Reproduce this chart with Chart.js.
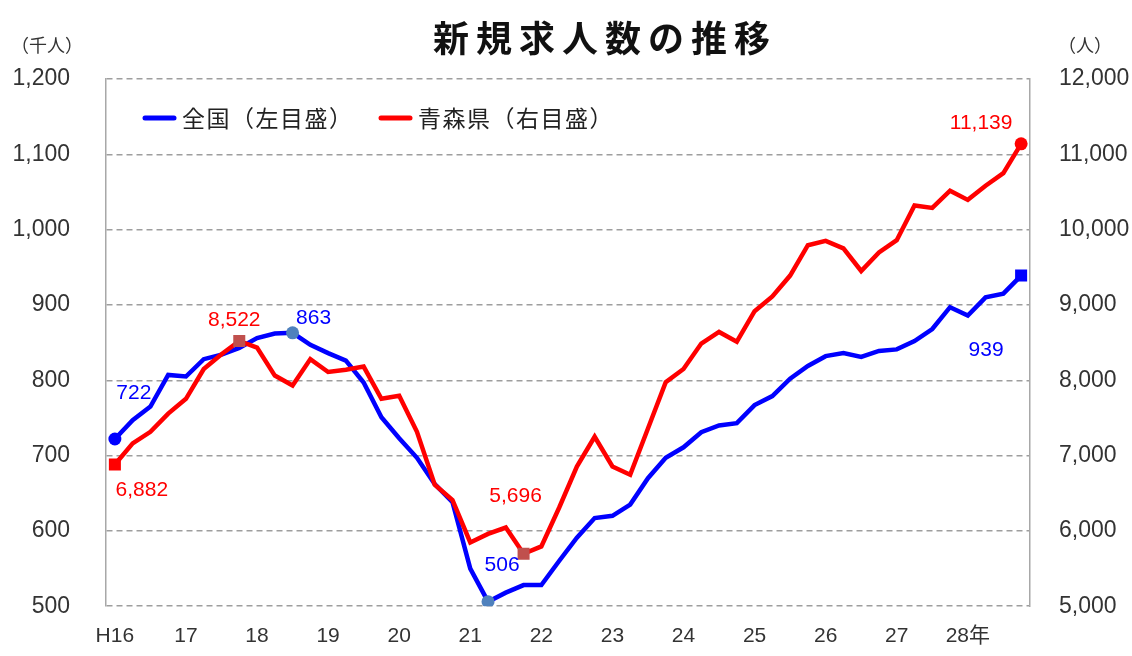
<!DOCTYPE html>
<html><head><meta charset="utf-8">
<script src="https://cdn.jsdelivr.net/npm/chart.js@4"></script>
<style>html,body{margin:0;padding:0;background:#fff;}#wrap{width:1132px;height:656px;position:relative;}</style>
</head><body><div id="wrap"><canvas id="c" width="1132" height="656"></canvas></div>
<script>
// ---- data ----
const yearLabels = ['H16','17','18','19','20','21','22','23','24','25','26','27','28年'];
const categories = [
  'H16','','','', '17','','','', '18','','','', '19','','','', '20','','','',
  '21','','','', '22','','','', '23','','','', '24','','','', '25','','','',
  '26','','','', '27','','','', '28年','','',''
];
const zenkoku = [722,747,765,807,805,828,834,843,856,862,863,847,836,826,797,751,
  723,697,662,638,550,506,518,528,528,560,591,617,620,635,670,697,711,731,740,743,
  767,779,802,819,832,836,831,839,841,852,868,897,886,910,915,939];
const aomori = [6882,7162,7316,7557,7754,8149,8346,8522,8434,8062,7930,8281,8110,8140,8182,7754,
  7795,7316,6614,6408,5846,5960,6044,5696,5794,6307,6855,7250,6855,6746,7360,7974,8149,8487,8641,8513,
  8917,9114,9390,9793,9851,9750,9451,9697,9860,10320,10289,10517,10395,10583,10750,11139];
const seriesNames = ['全国（左目盛）','青森県（右目盛）'];
const leftRange = [500, 1200, 100];
const rightRange = [5000, 12000, 1000];
const titleText = '新規求人数の推移';
const leftUnit = '（千人）';
const rightUnit = '（人）';
// highlighted points: [seriesIndex, pointIndex]
const marked = [[0,0],[0,10],[0,21],[0,51],[1,0],[1,7],[1,23],[1,51]];

// ---- styling ----
const FONT = '"Liberation Sans", "Noto Sans CJK JP", sans-serif';
const CJK = '"Noto Sans CJK JP", sans-serif';
const markerStyle = {
  '0-0':{style:'circle',color:'#0000FF',r:6.5},
  '0-10':{style:'circle',color:'#4F81BD',r:6.5},
  '0-21':{style:'circle',color:'#4F81BD',r:6.5},
  '0-51':{style:'rect',color:'#0000FF',r:8.5},
  '1-0':{style:'rect',color:'#FF0000',r:8.5},
  '1-7':{style:'rect',color:'#C0504D',r:8.5},
  '1-23':{style:'rect',color:'#C0504D',r:8.5},
  '1-51':{style:'circle',color:'#FF0000',r:6.5}
};
const labelOffset = {
  '0-0':[19,-46], '0-10':[21,-15], '0-21':[14,-36], '0-51':[-35,75],
  '1-0':[27,26], '1-7':[-5,-21], '1-23':[-8,-58], '1-51':[-40,-21]
};
const colors = ['#0000FF','#FF0000'];

function mk(ds){
  return {
    radius: c => { const m = markerStyle[ds+'-'+c.dataIndex]; return m ? m.r : 0; },
    style: c => { const m = markerStyle[ds+'-'+c.dataIndex]; return m ? m.style : 'circle'; },
    color: c => { const m = markerStyle[ds+'-'+c.dataIndex]; return m ? m.color : colors[ds]; }
  };
}
const m0 = mk(0), m1 = mk(1);

const decor = {
  id:'decor',
  afterDraw(chart){
    const ctx = chart.ctx;
    ctx.save();
    const hasLS = ('letterSpacing' in ctx);
    // title
    ctx.fillStyle = '#111';
    ctx.font = 'bold 36px ' + CJK;
    ctx.textAlign = 'center';
    ctx.textBaseline = 'middle';
    if (hasLS) ctx.letterSpacing = '7px';
    ctx.fillText(titleText, 605, 38);
    if (hasLS) ctx.letterSpacing = '0px';
    // units
    ctx.font = '18px ' + CJK;
    ctx.fillStyle = '#333';
    ctx.fillText(leftUnit, 47, 45);
    ctx.fillText(rightUnit, 1085, 45);
    // legend
    const lx = [143, 379];
    ctx.textAlign = 'left';
    ctx.font = '23px ' + CJK;
    for (let i=0;i<2;i++){
      ctx.strokeStyle = colors[i];
      ctx.lineWidth = 5;
      ctx.lineCap = 'round';
      ctx.beginPath(); ctx.moveTo(lx[i]+2,118); ctx.lineTo(lx[i]+31,118); ctx.stroke();
      ctx.fillStyle = '#222';
      if (hasLS) ctx.letterSpacing = '1.5px';
      ctx.fillText(seriesNames[i], lx[i]+39, 118);
      if (hasLS) ctx.letterSpacing = '0px';
    }
    // data labels
    ctx.font = '21px ' + FONT;
    ctx.textAlign = 'center';
    for (const [ds, idx] of marked){
      const el = chart.getDatasetMeta(ds).data[idx];
      const v = chart.data.datasets[ds].data[idx];
      const off = labelOffset[ds+'-'+idx];
      ctx.fillStyle = colors[ds];
      ctx.fillText(v.toLocaleString('en-US'), el.x + off[0], el.y + off[1]);
    }
    ctx.restore();
  }
};

new Chart(document.getElementById('c'), {
  type:'line',
  data:{
    labels: categories,
    datasets:[
      {label:seriesNames[0], data:zenkoku, yAxisID:'yL', borderColor:colors[0], borderWidth:4.5,
       tension:0, order:1, pointRadius:m0.radius, pointStyle:m0.style, pointBackgroundColor:m0.color,
       pointBorderWidth:0, pointHoverRadius:0},
      {label:seriesNames[1], data:aomori, yAxisID:'yR', borderColor:colors[1], borderWidth:4.5,
       tension:0, order:0, pointRadius:m1.radius, pointStyle:m1.style, pointBackgroundColor:m1.color,
       pointBorderWidth:0, pointHoverRadius:0}
    ]
  },
  options:{
    responsive:false, animation:false, devicePixelRatio:1,
    layout:{padding:{top:79,left:0,right:0,bottom:0}},
    plugins:{legend:{display:false}, tooltip:{enabled:false}, title:{display:false}},
    scales:{
      x:{type:'category', offset:true,
         grid:{display:false, drawTicks:false}, border:{display:false},
         ticks:{autoSkip:false, maxRotation:0, minRotation:0, padding:17, color:'#333', font:{size:21, family:FONT}},
         afterFit: s => { s.height = 45; }},
      yL:{position:'left', min:leftRange[0], max:leftRange[1],
         ticks:{stepSize:leftRange[2], padding:36, color:'#333', font:{size:23, family:FONT},
                callback: v => v.toLocaleString('en-US')},
         grid:{color:'#9e9e9e', lineWidth:1.5, drawTicks:false},
         border:{display:true, color:'#a8a8a8', width:1.5, dash:[6,4]},
         afterFit: s => { s.width = 106; }},
      yR:{position:'right', min:rightRange[0], max:rightRange[1],
         ticks:{stepSize:rightRange[2], padding:29, color:'#333', font:{size:23, family:FONT},
                callback: v => v.toLocaleString('en-US')},
         grid:{display:false, drawTicks:false},
         border:{display:true, color:'#a8a8a8', width:1.5},
         afterFit: s => { s.width = 102; }}
    }
  },
  plugins:[decor]
});
</script></body></html>
